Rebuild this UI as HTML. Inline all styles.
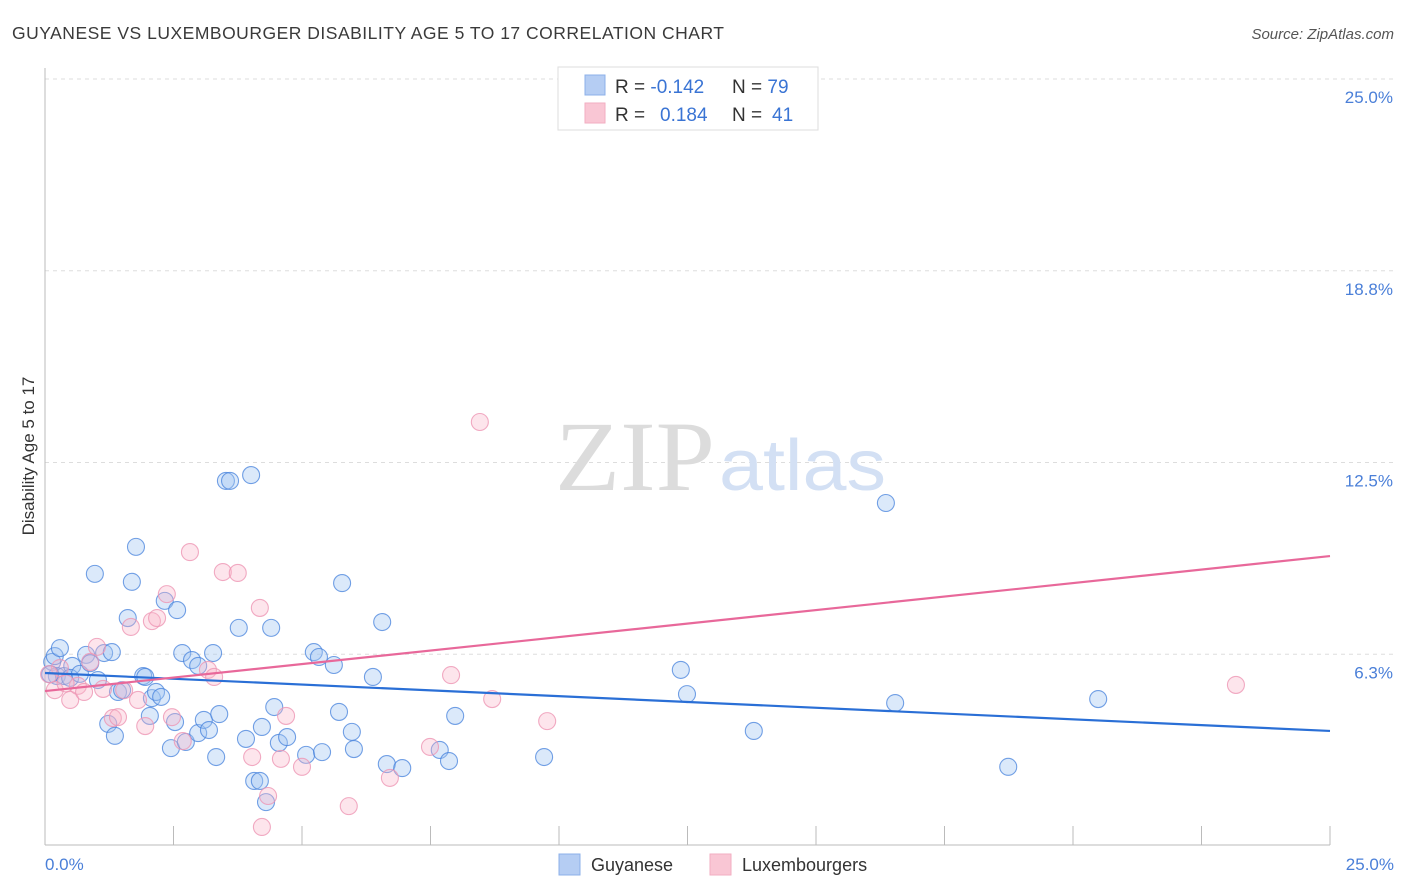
<!DOCTYPE html>
<html><head><meta charset="utf-8"><style>
body{margin:0;background:#fff;font-family:"Liberation Sans",sans-serif;}
svg{display:block}
</style></head><body>
<svg id="chart" width="1406" height="892">
<text x="12" y="39" font-size="17.5" fill="#3a3a3a" textLength="712">GUYANESE VS LUXEMBOURGER DISABILITY AGE 5 TO 17 CORRELATION CHART</text>
<text x="1394" y="39" font-size="15" fill="#555" font-style="italic" text-anchor="end">Source: ZipAtlas.com</text>
<g id="grid"></g>
<line x1="45" y1="68" x2="45" y2="845" stroke="#bbb"/>
<line x1="45" y1="845" x2="1330" y2="845" stroke="#bbb"/>
<g id="xticks"></g>
<text x="555" y="490" font-size="100" fill="#dcdcdc" font-family="Liberation Serif,serif" textLength="160" lengthAdjust="spacingAndGlyphs">ZIP</text>
<text x="719" y="490" font-size="72" fill="#d3e0f4" textLength="167" lengthAdjust="spacingAndGlyphs">atlas</text>
<text x="34" y="456" font-size="17" fill="#333" text-anchor="middle" transform="rotate(-90 34 456)">Disability Age 5 to 17</text>
<text x="45" y="870" font-size="17" fill="#4a7fd8">0.0%</text>
<text x="1394" y="870" font-size="17" fill="#4a7fd8" text-anchor="end">25.0%</text>
<g id="points"></g>
<g id="trends"></g>
<g>
<rect x="558" y="67" width="260" height="63" fill="#fff" stroke="#ddd"/>
<rect x="585" y="75" width="20" height="20" fill="#b5cdf3" stroke="#8cb0ea"/>
<rect x="585" y="103" width="20" height="20" fill="#f9c6d4" stroke="#f2aec2"/>
<text x="615" y="93" font-size="19" fill="#333">R = <tspan fill="#3a74d4">-0.142</tspan></text>
<text x="732" y="93" font-size="19" fill="#333">N = <tspan fill="#3a74d4">79</tspan></text>
<text x="615" y="121" font-size="19" fill="#333">R = <tspan fill="#3a74d4" x="660">0.184</tspan></text>
<text x="732" y="121" font-size="19" fill="#333">N = <tspan fill="#3a74d4" x="772">41</tspan></text>
</g>
<g>
<rect x="559" y="854" width="21" height="21" fill="#b5cdf3" stroke="#8cb0ea"/>
<text x="591" y="871" font-size="18" fill="#333">Guyanese</text>
<rect x="710" y="854" width="21" height="21" fill="#f9c6d4" stroke="#f2aec2"/>
<text x="742" y="871" font-size="18" fill="#333">Luxembourgers</text>
</g>
</svg>
<script>
const yTicks=[6.25,12.5,18.75,25];
const yTickLabels=["6.3%","12.5%","18.8%","25.0%"];
const blueX=[.14,.19,.29,.23,.37,.53,.49,.68,.80,.88,.97,1.03,1.15,1.23,1.30,1.36,1.42,1.50,1.61,1.69,1.77,1.91,1.95,2.04,2.08,2.16,2.26,2.33,2.45,2.53,2.57,2.67,2.74,2.86,2.98,2.98,3.09,3.19,3.27,3.33,3.39,3.52,3.60,3.77,3.91,4.01,4.07,4.18,4.22,4.30,4.40,4.46,4.55,4.71,5.08,5.23,5.33,5.39,5.62,5.72,5.78,5.97,6.01,6.38,6.56,6.65,6.95,7.68,7.86,7.98,9.71,12.37,12.49,13.79,16.36,16.54,18.74,20.49,0.10];
const blueY=[6.00,6.19,6.45,5.54,5.54,5.87,5.48,5.61,6.23,5.96,8.87,5.41,6.29,3.98,6.32,3.59,5.02,5.08,7.43,8.61,9.75,5.54,5.51,4.24,4.82,5.02,4.86,7.99,3.19,4.04,7.69,6.29,3.39,6.06,5.87,3.68,4.11,3.78,6.29,2.90,4.30,11.90,11.90,7.11,3.49,12.09,2.12,2.12,3.88,1.43,7.11,4.53,3.36,3.55,2.97,6.32,6.16,3.06,5.90,4.37,8.57,3.72,3.16,5.51,7.30,2.67,2.54,3.13,2.77,4.24,2.90,5.74,4.95,3.75,11.18,4.66,2.58,4.79,5.60];
const pinkX=[.19,.29,.49,.64,.76,.88,1.01,1.13,1.32,1.42,1.67,1.81,1.95,2.08,2.18,2.37,2.47,2.68,2.82,3.17,3.29,3.46,3.75,4.03,4.18,4.22,4.34,4.59,4.69,5.00,5.91,6.71,7.49,7.90,8.46,8.70,9.77,23.17,1.54,0.08,0.40];
const pinkY=[5.08,5.80,4.76,5.22,5.02,6.00,6.49,5.12,4.17,4.20,7.14,4.76,3.91,7.33,7.43,8.21,4.20,3.42,9.58,5.74,5.51,8.93,8.90,2.90,7.76,0.62,1.63,2.84,4.24,2.58,1.30,2.22,3.23,5.57,13.82,4.79,4.07,5.25,5.08,5.60,5.30];
const blueTrend=[5.64,3.75];
const pinkTrend=[5.05,9.45];
const NS="http://www.w3.org/2000/svg";
const sx=v=>45+v/25*1285;
const sy=v=>846-v/25*767;
function mk(tag,attrs,parent){const e=document.createElementNS(NS,tag);for(const k in attrs)e.setAttribute(k,attrs[k]);document.getElementById(parent).appendChild(e);return e;}
yTicks.forEach((t,i)=>{
  const l=mk('line',{x1:45,x2:1394,y1:sy(t),y2:sy(t),stroke:'#ddd','stroke-dasharray':'4,4'},'grid');
  
  
  const tx=mk('text',{x:1393,y:sy(t)+24,'font-size':17,fill:'#4a7fd8','text-anchor':'end'},'grid');
  tx.textContent=yTickLabels[i];
  
  
});
for(let i=0;i<=10;i++){
  const x=sx(i*2.5);
  const l=mk('line',{x1:x,x2:x,y1:826,y2:845,stroke:'#bbb'},'xticks');
  
  
}
blueX.forEach((v,i)=>{
  const c=mk('circle',{cx:sx(v),cy:sy(blueY[i]),r:8.5,fill:'rgba(160,196,242,0.38)',stroke:'rgba(70,130,220,0.75)','stroke-width':1.1},'points');
  
  
});
pinkX.forEach((v,i)=>{
  const c=mk('circle',{cx:sx(v),cy:sy(pinkY[i]),r:8.5,fill:'rgba(248,180,200,0.35)',stroke:'rgba(238,150,180,0.8)','stroke-width':1.1},'points');
  
  
});
const bl=mk('line',{x1:sx(0),y1:sy(blueTrend[0]),x2:sx(25),y2:sy(blueTrend[1]),stroke:'#2a6fd6','stroke-width':2.2},'trends');


const pl=mk('line',{x1:sx(0),y1:sy(pinkTrend[0]),x2:sx(25),y2:sy(pinkTrend[1]),stroke:'#e8689a','stroke-width':2.2},'trends');


</script>
</body></html>
